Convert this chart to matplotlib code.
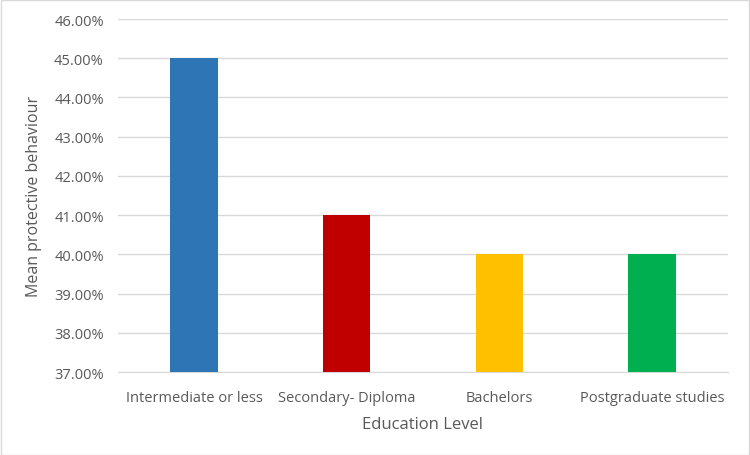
import matplotlib
matplotlib.use("Agg")
import matplotlib.pyplot as plt
from matplotlib.ticker import FuncFormatter, MultipleLocator
from matplotlib.patches import Rectangle

# === Data ===
categories = ["Intermediate or less", "Secondary- Diploma", "Bachelors", "Postgraduate studies"]
values = [45.0, 41.0, 40.0, 40.0]
colors = ["#2E75B6", "#C00000", "#FFC000", "#00B050"]

plt.rcParams["font.family"] = ["Open Sans", "DejaVu Sans"]
text_color = "#595959"

fig = plt.figure(figsize=(7.5, 4.56), dpi=100)
ax = fig.add_axes([0.157, 0.182, 0.814, 0.774])

x = range(len(categories))
ax.bar(x, values, width=0.31, color=colors, zorder=3)

ax.set_ylim(37, 46)
ax.set_xlim(-0.5, len(categories) - 0.5)
ax.yaxis.set_major_locator(MultipleLocator(1))
ax.yaxis.set_major_formatter(FuncFormatter(lambda v, _: f"{v:.2f}%"))
ax.grid(axis="y", color="#D9D9D9", linewidth=1, zorder=0)

ax.set_xticks(list(x))
ax.set_xticklabels(categories)
ax.tick_params(axis="both", length=0, labelsize=10.5, colors=text_color)
ax.tick_params(axis="x", pad=13)
ax.tick_params(axis="y", pad=10)

for side in ["top", "right", "left"]:
    ax.spines[side].set_visible(False)
ax.spines["bottom"].set_color("#D9D9D9")

ax.set_xlabel("Education Level", fontsize=12, color=text_color, labelpad=8)
ax.set_ylabel("Mean protective behaviour", fontsize=11.5, color=text_color, labelpad=9)

fig.patches.append(Rectangle((0.001, 0.001), 0.998, 0.997, transform=fig.transFigure,
                             fill=False, edgecolor="#D9D9D9", linewidth=1))

fig.savefig("out.png", dpi=100)
